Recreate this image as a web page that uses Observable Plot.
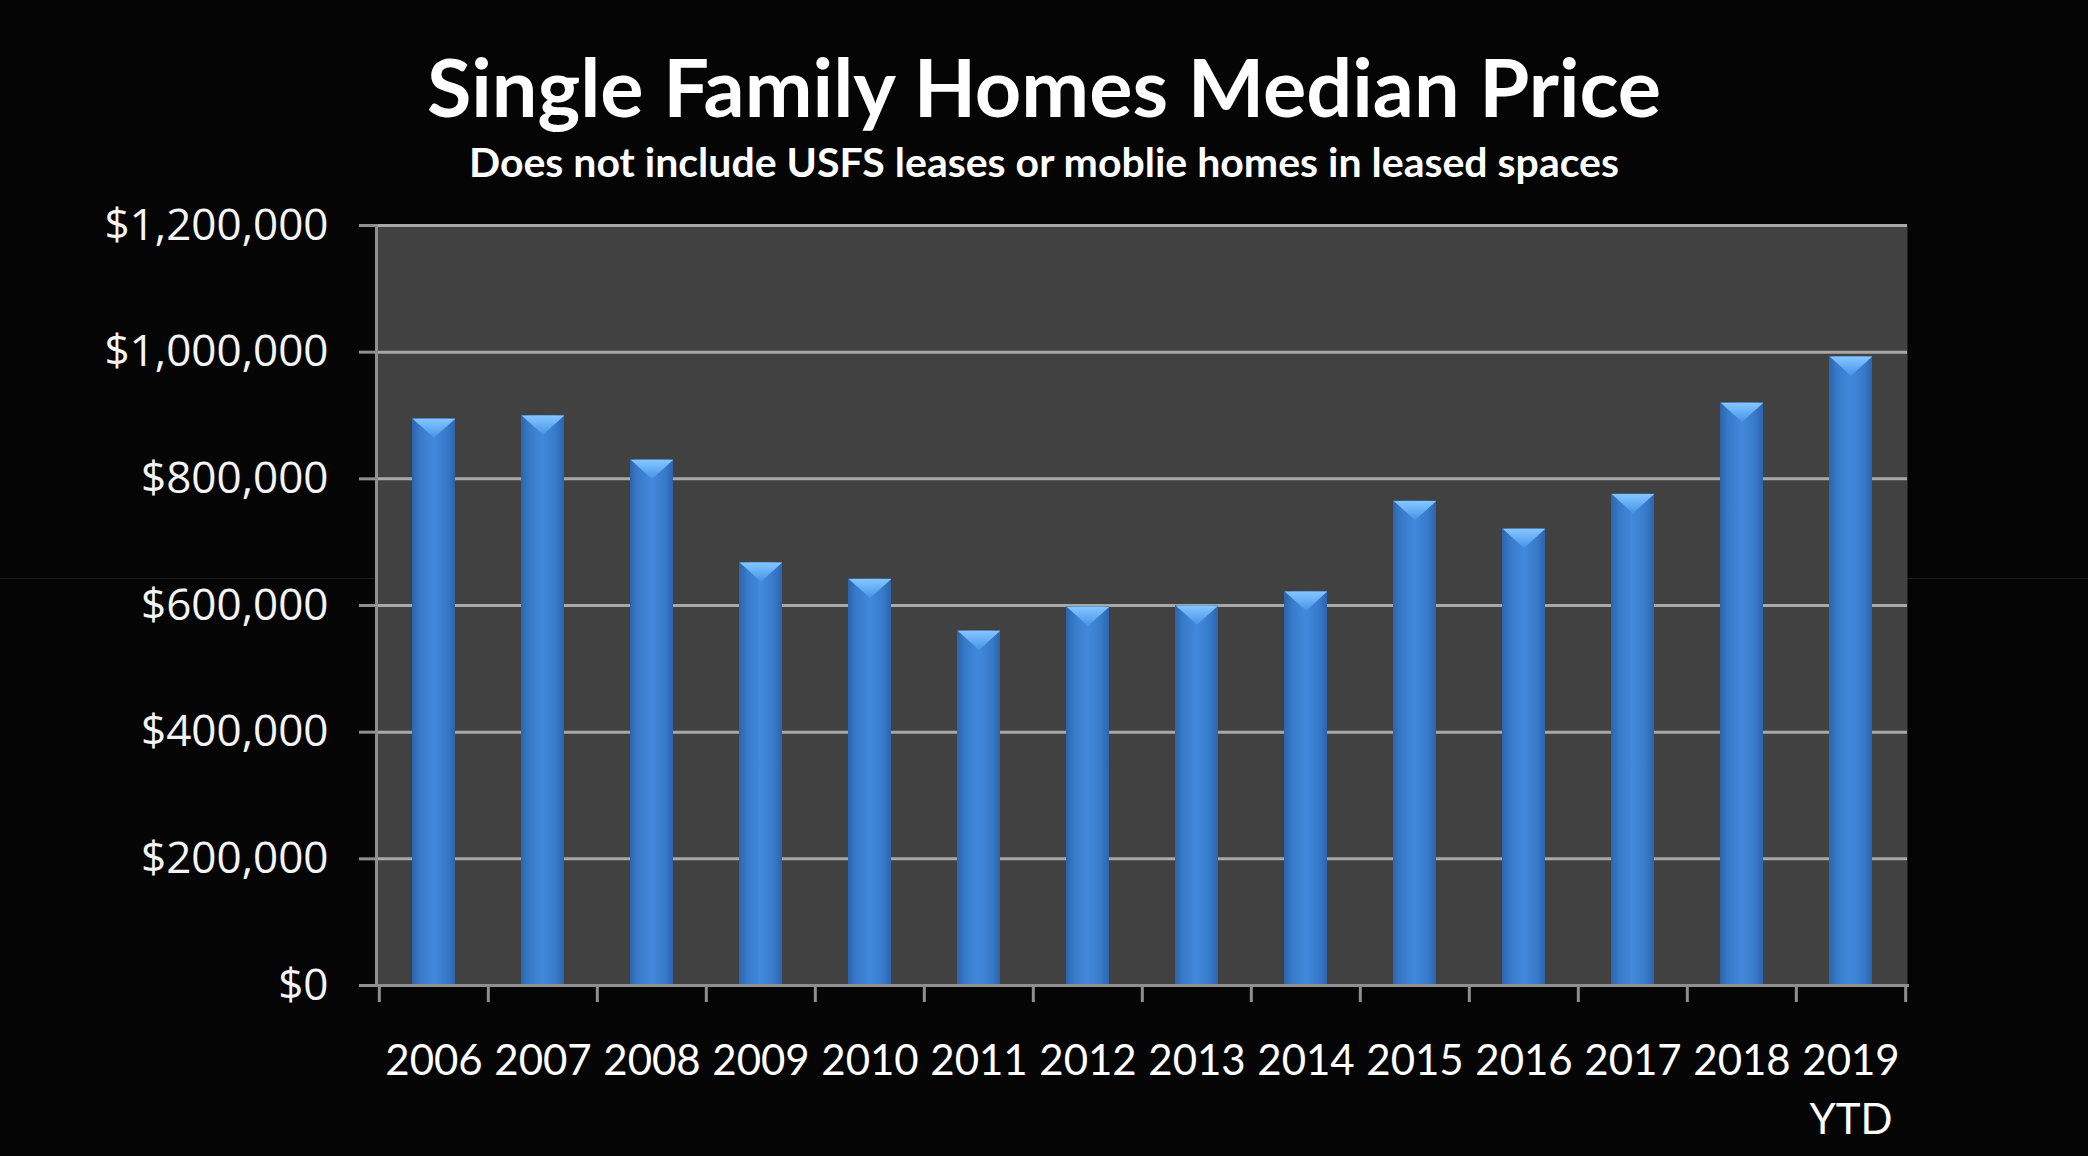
<!DOCTYPE html>
<html>
<head>
<meta charset="utf-8">
<script src="https://cdn.jsdelivr.net/npm/d3@7"></script>
<script src="https://cdn.jsdelivr.net/npm/@observablehq/plot@0.6"></script>
<style>
  html, body { margin: 0; padding: 0; background: #050505; }
  #page { position: relative; width: 2088px; height: 1156px; overflow: hidden; background: #050505; }
  .title, .subtitle { position: absolute; left: 0; width: 2088px; text-align: center; color: #fff; font-family: Lato, "Open Sans", sans-serif; font-weight: 700; line-height: 1; white-space: nowrap; }
  .title { top: 45px; font-size: 81px; }
  .subtitle { top: 141px; font-size: 41px; }
  .seam { position: absolute; left: 0; top: 578px; width: 2088px; height: 1px; background: #1c1c1c; }
  #chart { position: absolute; left: 0; top: 200px; }
</style>
</head>
<body>
<div id="page">
  <div class="seam"></div>
  <div class="title">Single Family Homes Median Price</div>
  <div class="subtitle">Does not include USFS leases or moblie homes in leased spaces</div>
  <div id="chart"></div>
</div>
<script>
// Median sale price of single family homes, by year
const years = ["2006", "2007", "2008", "2009", "2010", "2011", "2012", "2013", "2014", "2015", "2016", "2017", "2018", "2019"];
const prices = [895000, 900000, 830000, 668000, 642000, 560000, 598000, 600000, 622000, 765000, 721000, 776000, 920000, 993000];
const yTicks = [0, 200000, 400000, 600000, 800000, 1000000, 1200000];
const lastYearLabel = "2019\nYTD";

const data = years.map((year, i) => ({year, price: prices[i]}));

const width = 2088, height = 956;
const marginLeft = 376, marginRight = 181, marginTop = 25, marginBottom = 171;
const step = (width - marginLeft - marginRight) / years.length;
const barHalf = step * 0.39 / 2;

// flat, downward-pointing wedge used for the bevel at the top of each bar
const bevel = {
  draw(context, size) {
    const w = Math.sqrt(size / Math.PI);
    context.moveTo(-w, 0);
    context.lineTo(w, 0);
    context.lineTo(0, w * 0.9);
    context.closePath();
  }
};

const money = d => "$" + d3.format(",")(d);
const axisGray = "#8f8f8f";

const chart = Plot.plot({
  width, height, marginLeft, marginRight, marginTop, marginBottom,
  style: {background: "transparent", color: "#ffffff", overflow: "visible"},
  x: {domain: years, paddingInner: 0.61, paddingOuter: 0.305, label: null},
  y: {domain: [0, 1200000], label: null},
  marks: [
    Plot.frame({fill: "#414141", stroke: null}),
    Plot.gridY(yTicks, {stroke: "#a8a8a8", strokeOpacity: 1, strokeWidth: 3}),
    Plot.barY(data, {x: "year", y: "price", fill: "url(#barFace)"}),
    Plot.dot(data, {x: "year", y: "price", symbol: bevel, r: barHalf, fill: "url(#barBevel)", stroke: null}),
    Plot.frame({anchor: "left", stroke: axisGray, strokeWidth: 3}),
    Plot.frame({anchor: "bottom", stroke: axisGray, strokeWidth: 3}),
    Plot.axisY(yTicks, {
      tickSize: 17, tickPadding: 31, stroke: axisGray, strokeWidth: 3,
      tickFormat: money, fontSize: 44, fontFamily: "'Open Sans', sans-serif", fill: "#f4f4f4", label: null
    }),
    // ticks sit on the boundaries between categories
    Plot.axisX(years, {tickSize: 17, dx: -step / 2, text: null, stroke: axisGray, strokeWidth: 3, label: null}),
    Plot.axisX([years[years.length - 1]], {tickSize: 17, dx: step / 2, text: null, stroke: axisGray, strokeWidth: 3, label: null}),
    Plot.axisX(years, {
      tickSize: 0, tickPadding: 47, fontSize: 42, lineHeight: 1.42,
      fontFamily: "Lato, 'Open Sans', sans-serif", fill: "#ffffff", label: null,
      tickFormat: d => d === years[years.length - 1] ? lastYearLabel : d
    })
  ]
});

// gradients for the bar faces and bevels
const defs = d3.select(chart).insert("defs", ":first-child");
const face = defs.append("linearGradient").attr("id", "barFace").attr("x1", "0").attr("x2", "1").attr("y1", "0").attr("y2", "0");
[[0, "#2c63ad"], [0.18, "#377ac9"], [0.5, "#4289dc"], [0.82, "#377ac9"], [1, "#2c63ad"]]
  .forEach(([o, c]) => face.append("stop").attr("offset", o).attr("stop-color", c));
const bev = defs.append("linearGradient").attr("id", "barBevel").attr("x1", "0").attr("x2", "0").attr("y1", "0").attr("y2", "1");
[[0, "#86c6ff"], [0.6, "#5fa9f2"], [1, "#4a92e2"]]
  .forEach(([o, c]) => bev.append("stop").attr("offset", o).attr("stop-color", c));

document.getElementById("chart").appendChild(chart);
</script>
</body>
</html>
